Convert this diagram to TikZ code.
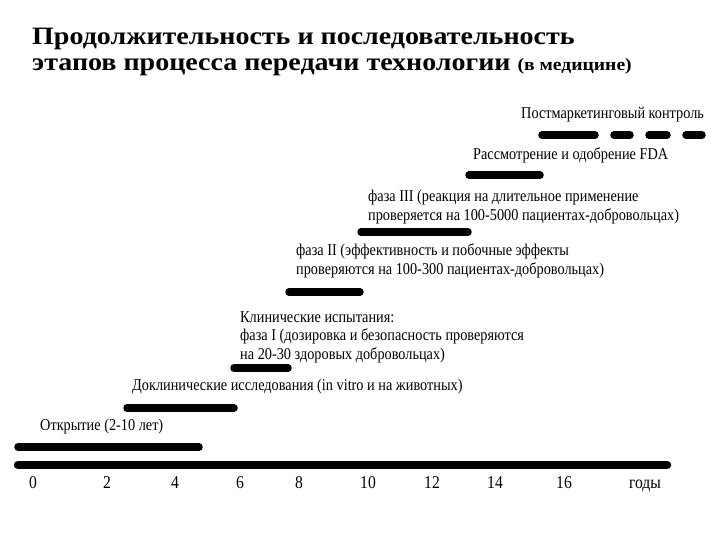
\documentclass[tikz,border=0pt]{standalone}
\usepackage{fontspec}
\setmainfont{Liberation Serif}
\newfontfamily\lblfont[FakeStretch=0.866]{Liberation Serif}
\newfontfamily\tickfont[FakeStretch=0.87]{Liberation Serif}
\newfontfamily\ttlfont[FakeStretch=1.12]{Liberation Serif}
\begin{document}
\begin{tikzpicture}[x=1pt,y=-1pt,
  bar/.style={line width=7.5pt,line cap=round},
  lbl/.style={anchor=west,inner sep=0pt,align=left,font=\lblfont\fontsize{16.5}{18.5}\selectfont},
  tick/.style={anchor=base,inner sep=0pt,font=\tickfont\fontsize{18}{20}\selectfont},
  ttl/.style={anchor=base west,inner sep=0pt,font=\ttlfont\bfseries\fontsize{25}{27}\selectfont}]
\useasboundingbox (0,0) rectangle (720,540);
% title
\node[ttl] (t1) at (32,44.5) {Продолжительность и последовательность};
\node[ttl] (t2) at (32,71) {этапов процесса передачи технологии {\fontsize{17.5}{20}\selectfont(в медицине)}};
% axis
\coordinate (a0) at (18,465); \coordinate (a1) at (667,465);
\draw[bar,line width=8.5pt] (a0) -- (a1);
\foreach \x/\t [count=\i] in {33/0,107/2,175/4,240/6,299/8,368/10,432/12,495/14,564/16,645/годы}
  \node[tick] (k\i) at (\x,488) {\t};
% bars
\coordinate (b1s) at (18,447); \coordinate (b1e) at (199,447);
\draw[bar] (b1s) -- (b1e);
\node[lbl] (l1) at (40,427) {Открытие (2-10 лет)};
\coordinate (b2s) at (127,408); \coordinate (b2e) at (234,408);
\draw[bar] (b2s) -- (b2e);
\node[lbl] (l2) at (132,387) {Доклинические исследования (in vitro и на животных)};
\coordinate (b3s) at (234,368); \coordinate (b3e) at (288,368);
\draw[bar] (b3s) -- (b3e);
\node[lbl] (l3) at (240,337) {Клинические испытания:\\фаза I (дозировка и безопасность проверяются\\на 20-30 здоровых добровольцах)};
\coordinate (b4s) at (289,292); \coordinate (b4e) at (360,292);
\draw[bar] (b4s) -- (b4e);
\node[lbl] (l4) at (296,261) {фаза II (эффективность и побочные эффекты\\проверяются на 100-300 пациентах-добровольцах)};
\coordinate (b5s) at (361,232); \coordinate (b5e) at (468,232);
\draw[bar] (b5s) -- (b5e);
\node[lbl] (l5) at (368,207) {фаза III (реакция на длительное применение\\проверяется на 100-5000 пациентах-добровольцах)};
\coordinate (b6s) at (469,175); \coordinate (b6e) at (540,175);
\draw[bar] (b6s) -- (b6e);
\node[lbl] (l6) at (473,155) {Рассмотрение и одобрение FDA};
\coordinate (b7s) at (542,135); \coordinate (b7e) at (595,135);
\coordinate (d1s) at (614,135); \coordinate (d1e) at (630,135);
\coordinate (d2s) at (649,135); \coordinate (d2e) at (667,135);
\coordinate (d3s) at (686,135); \coordinate (d3e) at (702,135);
\draw[bar] (b7s) -- (b7e);
\draw[bar] (d1s) -- (d1e);
\draw[bar] (d2s) -- (d2e);
\draw[bar] (d3s) -- (d3e);
\node[lbl] (l7) at (521,115) {Постмаркетинговый контроль};
\end{tikzpicture}
\end{document}
